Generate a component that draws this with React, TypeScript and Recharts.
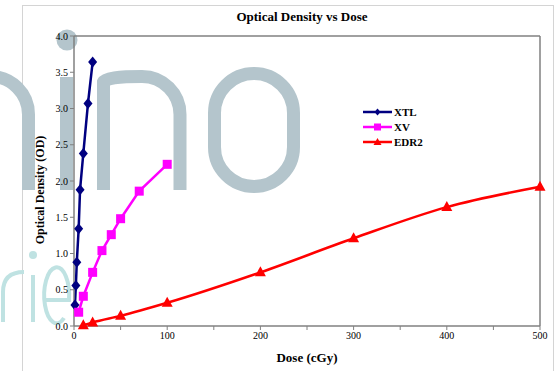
import { Line, LineChart, ReferenceLine, XAxis, YAxis } from "recharts";

// dose (cGy) and optical density
const xtlDose = [1, 2, 3, 5, 6.5, 10, 15, 20];
const xtlOD = [0.29, 0.56, 0.88, 1.34, 1.88, 2.38, 3.07, 3.64];
const xvDose = [5, 10, 20, 30, 40, 50, 70, 100];
const xvOD = [0.19, 0.41, 0.74, 1.04, 1.26, 1.48, 1.86, 2.23];
const edr2Dose = [10, 20, 50, 100, 200, 300, 400, 500];
const edr2OD = [0.01, 0.05, 0.14, 0.32, 0.74, 1.21, 1.64, 1.92];

const xTicks = [0, 50, 100, 150, 200, 250, 300, 350, 400, 450, 500];
const yTicks = [0, 0.5, 1, 1.5, 2, 2.5, 3, 3.5, 4];

const toPoints = (xs: number[], ys: number[]) => xs.map((x, i) => ({ x, y: ys[i] }));

const xtl = toPoints(xtlDose, xtlOD);
const xv = toPoints(xvDose, xvOD);
const edr2 = toPoints(edr2Dose, edr2OD);

const NAVY = "#000080";
const MAGENTA = "#ff00ff";
const RED = "#ff0000";
const SERIF = "'Liberation Serif', 'Times New Roman', serif";

const Diamond = (p: any) => {
    const { cx, cy, index } = p;
    if (cx == null || cy == null) return <g key={index} />;
    return <path key={index} d={`M${cx},${cy - 5.5}L${cx + 4.5},${cy}L${cx},${cy + 5.5}L${cx - 4.5},${cy}Z`} fill={NAVY} />;
};

const Square = (p: any) => {
    const { cx, cy, index } = p;
    if (cx == null || cy == null) return <g key={index} />;
    return <rect key={index} x={cx - 4.5} y={cy - 4.5} width={9} height={9} fill={MAGENTA} />;
};

const Triangle = (p: any) => {
    const { cx, cy, index } = p;
    if (cx == null || cy == null) return <g key={index} />;
    return <path key={index} d={`M${cx},${cy - 6}L${cx + 5.5},${cy + 4}L${cx - 5.5},${cy + 4}Z`} fill={RED} />;
};

const legendItems = [
    { name: "XTL", color: NAVY, mark: "diamond" },
    { name: "XV", color: MAGENTA, mark: "square" },
    { name: "EDR2", color: RED, mark: "triangle" },
];

// legend drawn on the overlay so it doesn't take room from the plot
const LegendBox = ({ x, y }: { x: number; y: number }) => (
    <g transform={`translate(${x},${y})`}>
        {legendItems.map((it, i) => {
            const ly = i * 15;
            return (
                <g key={it.name}>
                    <line x1={0} x2={29} y1={ly} y2={ly} stroke={it.color} strokeWidth={2.5} />
                    {it.mark === "diamond" && <path d={`M14.5,${ly - 3.5}L17.5,${ly}L14.5,${ly + 3.5}L11.5,${ly}Z`} fill={it.color} />}
                    {it.mark === "square" && <rect x={11} y={ly - 3.5} width={7} height={7} fill={it.color} />}
                    {it.mark === "triangle" && <path d={`M14.5,${ly - 4}L18.5,${ly + 3}L10.5,${ly + 3}Z`} fill={it.color} />}
                    <text x={31} y={ly + 4} fontSize={11} fontWeight="bold" fill="#000">{it.name}</text>
                </g>
            );
        })}
    </g>
);

const WM = "#b4c5cc";
const WM2 = "#bfe2e2";

const Watermark = () => (
    <svg width={560} height={371} style={{ position: "absolute", left: 0, top: 0 }}>
        <rect x={22.5} y={5.5} width={531} height={400} fill="none" stroke="#d4d4d4" />
        <g fill="none" stroke={WM} strokeWidth={13}>
            <path d="M-48,76.5 H-9.5 A38,38 0 0 1 28.5,114.5 V190" />
            <path d="M66.5,77 V190" />
            <path d="M103.5,190 V82 Q106,76.5 142,76.5 A38,38 0 0 1 180,114.5 V190" />
            <rect x={214.5} y={73.5} width={79} height={113} rx={39.5} />
        </g>
        <circle cx={67} cy={40} r={10.5} fill={WM} />
        <g fill="none" stroke={WM2} strokeWidth={4}>
            <path d="M3,322 V292 Q3,272 24,272" />
            <path d="M33,275 V322" />
            <path d="M44,300 H69 A12.5,28 0 1 0 64,318" />
        </g>
        <circle cx={33} cy={255} r={4} fill={WM2} />
    </svg>
);

const App = () => {
    return (
        <div style={{ position: "absolute", left: 0, top: 0, width: 560, height: 371, background: "#fff", overflow: "hidden", fontFamily: SERIF }}>
            <Watermark />
            <div style={{ position: "absolute", left: 0, top: 0 }}>
                <LineChart width={560} height={371} margin={{ top: 36, right: 20, bottom: 15, left: 0 }} style={{ fontFamily: SERIF }}>
                    <XAxis
                        type="number"
                        dataKey="x"
                        domain={[0, 500]}
                        ticks={xTicks}
                        interval={0}
                        tickFormatter={(v: number) => (v % 100 === 0 ? String(v) : "")}
                        axisLine={{ stroke: "#808080", strokeWidth: 1.5 }}
                        tickLine={{ stroke: "#808080" }}
                        tickSize={4}
                        height={30}
                        tick={{ fontSize: 10, fill: "#000", fontFamily: SERIF }}
                    />
                    <YAxis
                        type="number"
                        dataKey="y"
                        domain={[0, 4]}
                        ticks={yTicks}
                        interval={0}
                        tickFormatter={(v: number) => v.toFixed(1)}
                        axisLine={{ stroke: "#808080", strokeWidth: 1.5 }}
                        tickLine={{ stroke: "#808080" }}
                        tickSize={4}
                        width={74}
                        tick={{ fontSize: 10, fill: "#000", fontFamily: SERIF }}
                    />
                    <ReferenceLine y={4} stroke="#808080" strokeWidth={1.5} />
                    <ReferenceLine x={500} stroke="#808080" strokeWidth={1.5} />
                    <Line data={xtl} dataKey="y" name="XTL" type="linear" stroke={NAVY} strokeWidth={2.5} dot={Diamond} activeDot={false} isAnimationActive={false} />
                    <Line data={xv} dataKey="y" name="XV" type="linear" stroke={MAGENTA} strokeWidth={2.5} dot={Square} activeDot={false} isAnimationActive={false} />
                    <Line data={edr2} dataKey="y" name="EDR2" type="monotone" stroke={RED} strokeWidth={2.5} dot={Triangle} activeDot={false} isAnimationActive={false} />
                </LineChart>
            </div>
            <svg width={560} height={371} style={{ position: "absolute", left: 0, top: 0, pointerEvents: "none", fontFamily: SERIF }}>
                <text x={302} y={21} textAnchor="middle" fontSize={13} fontWeight="bold" fill="#000">Optical Density vs Dose</text>
                <text x={307} y={362} textAnchor="middle" fontSize={13} fontWeight="bold" fill="#000">Dose (cGy)</text>
                <text transform="translate(44,190) rotate(-90)" textAnchor="middle" fontSize={12} fontWeight="bold" fill="#000">Optical Density (OD)</text>
                <LegendBox x={363} y={112} />
            </svg>
        </div>
    );
};

export default App;
